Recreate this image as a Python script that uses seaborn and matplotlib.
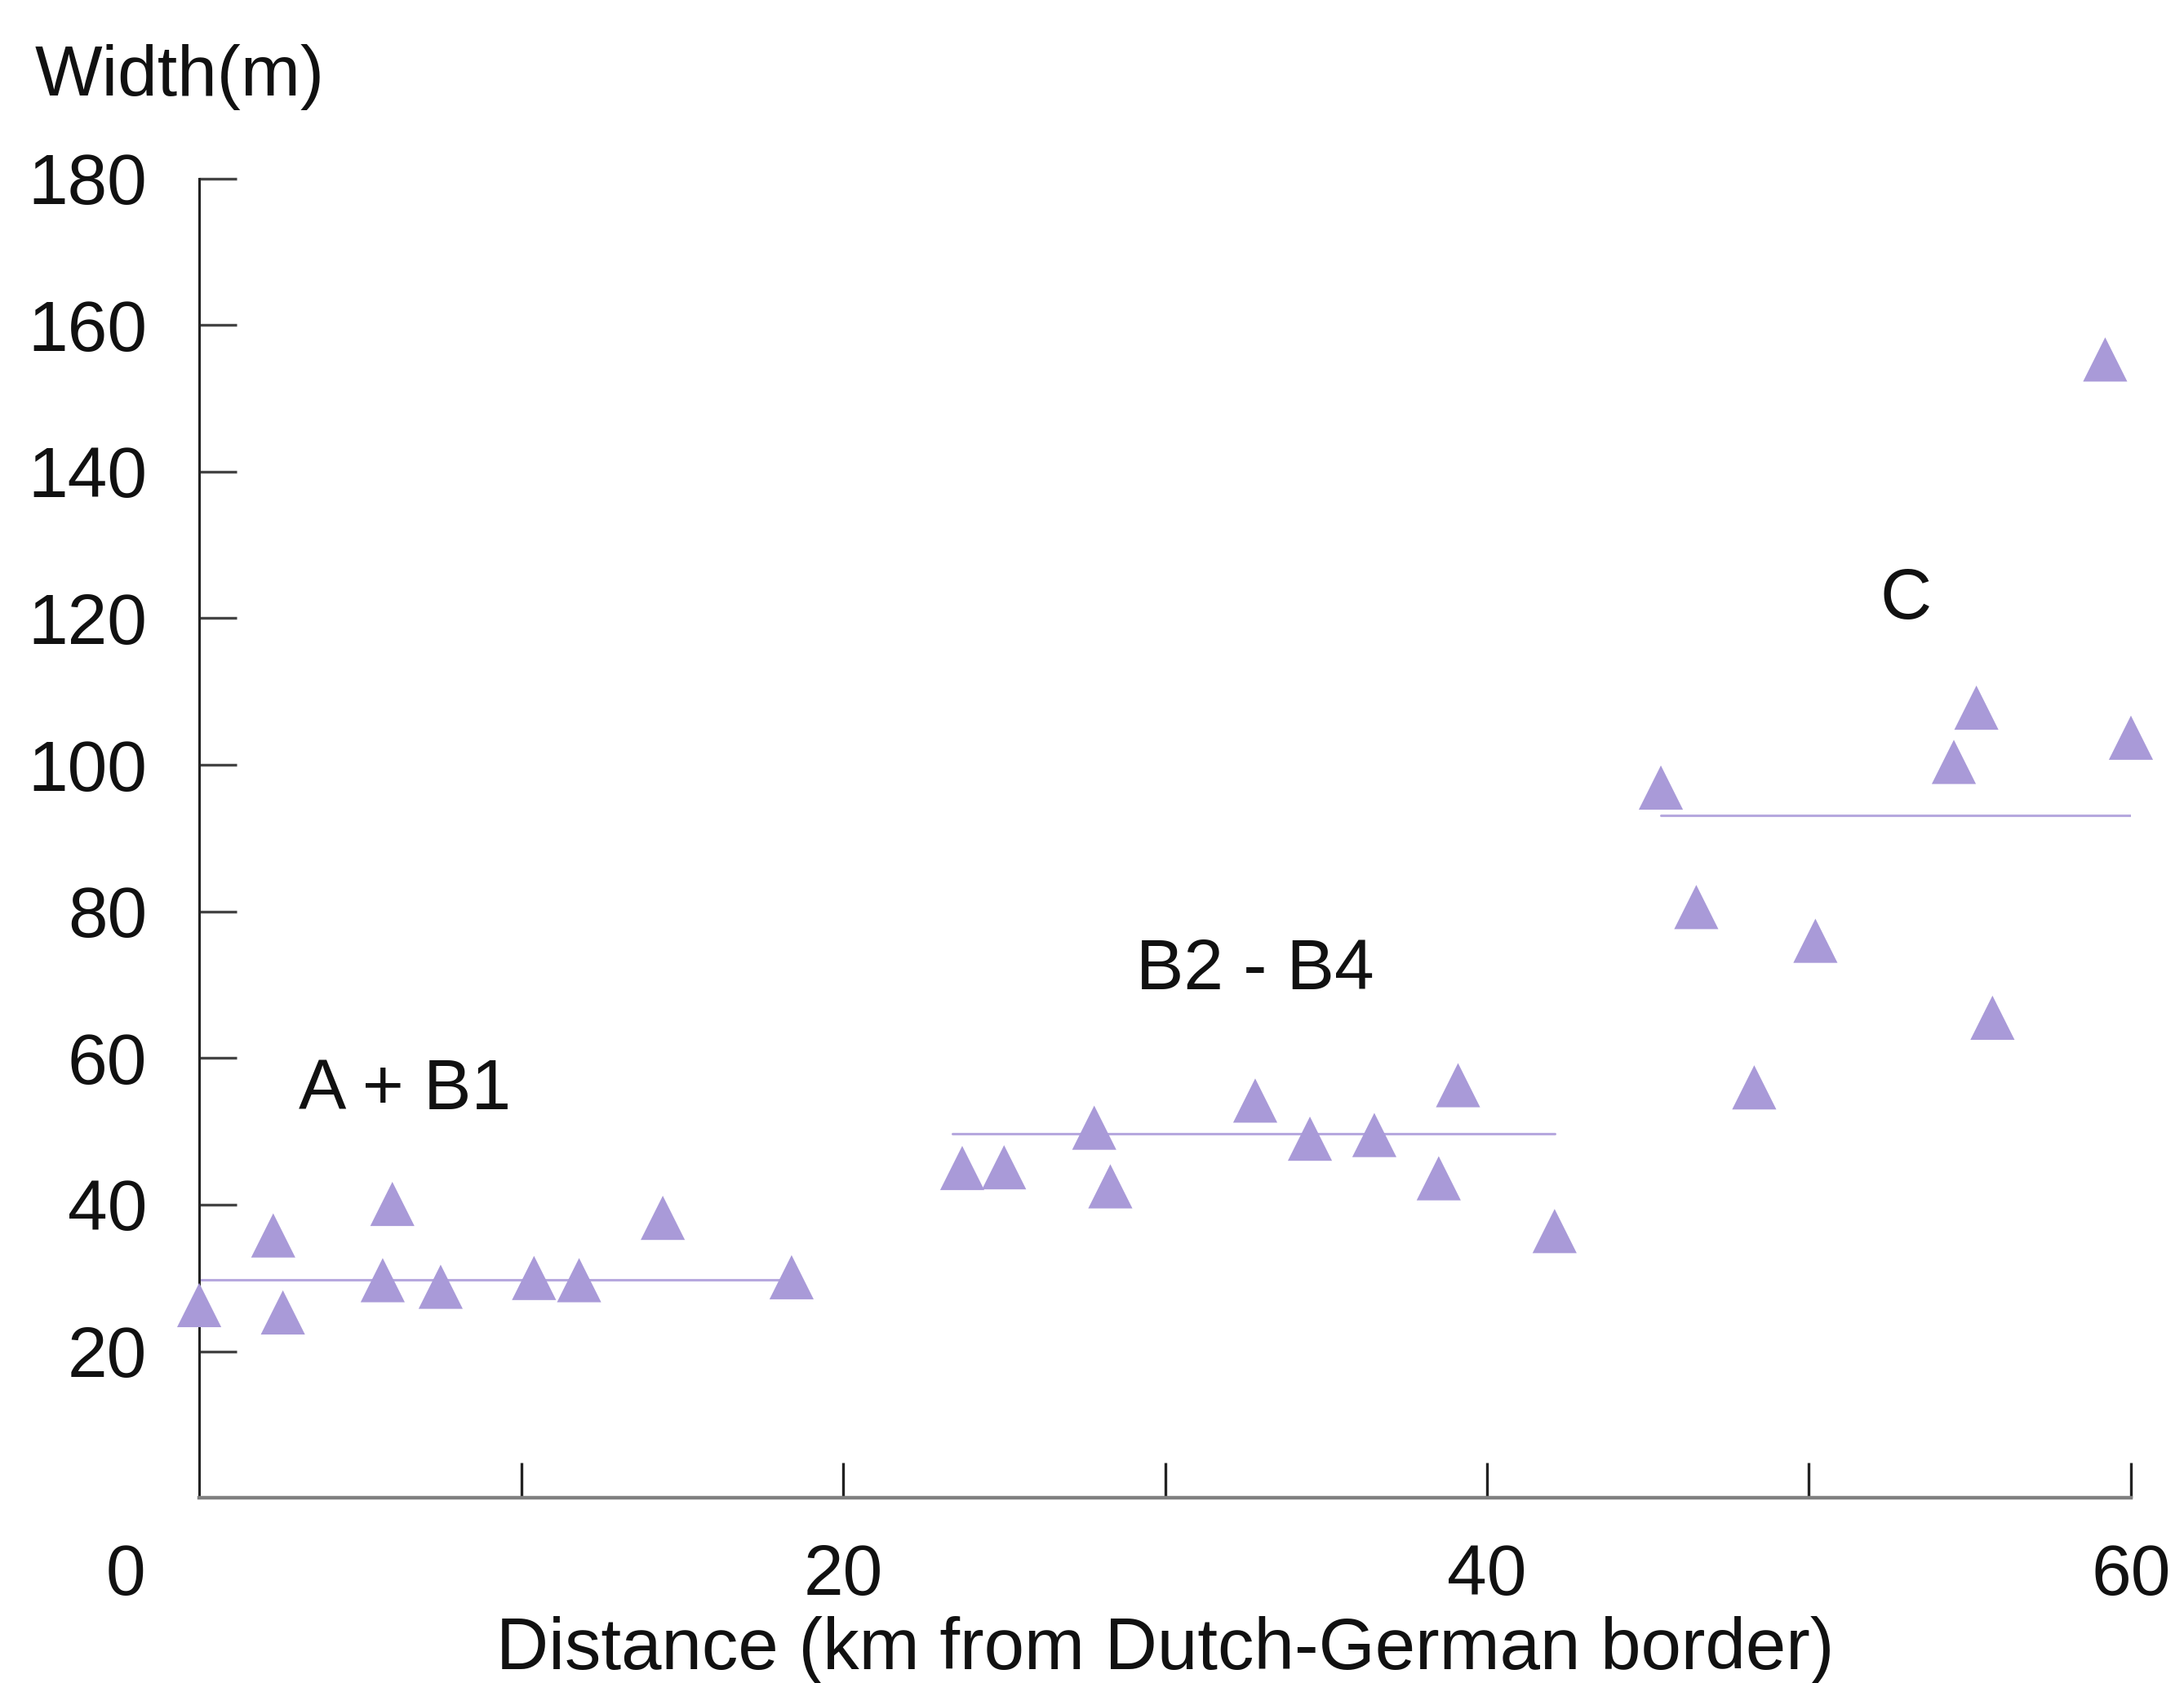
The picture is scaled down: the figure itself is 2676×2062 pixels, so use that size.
#Channel width against distance, three reaches with their mean width

import matplotlib
matplotlib.use('Agg')
import matplotlib.pyplot as plt
import matplotlib.transforms as mtransforms
import pandas as pd
import seaborn as sns

# values
a_dist = [0.0, 2.3, 2.6, 5.7, 6.0, 7.5, 10.4, 11.8, 14.4, 18.4]
a_width = [26.3, 35.8, 25.3, 29.7, 40.1, 28.8, 30.0, 29.7, 38.2, 30.1]
b_dist = [23.7, 25.0, 27.8, 28.3, 32.8, 34.5, 36.5, 38.5, 39.1, 42.1]
b_width = [45.0, 45.1, 50.5, 42.5, 54.2, 49.0, 49.5, 43.6, 56.3, 36.4]
c_dist = [45.4, 46.5, 48.3, 50.2, 54.5, 55.2, 55.7, 59.2, 60.0]
c_width = [96.9, 80.6, 56.0, 76.0, 100.4, 107.8, 65.5, 155.3, 103.7]

reach_names = ['A + B1', 'B2 - B4', 'C']
mean_start = [0.0, 23.4, 45.4]
mean_end = [18.1, 42.1, 60.0]
mean_width = [29.8, 49.7, 93.1]
label_x = [6.4, 32.8, 53.0]
label_y = [55.5, 71.9, 122.4]

x_labels = ['0', '20', '40', '60']
y_ticks = [20, 40, 60, 80, 100, 120, 140, 160, 180]

df = pd.DataFrame({
    'dist': a_dist + b_dist + c_dist,
    'width': a_width + b_width + c_width,
})

sns.set_style('white')
plt.rcParams['font.family'] = ['Liberation Sans', 'DejaVu Sans']

fig = plt.figure(figsize=(13.38, 10.31), dpi=200)
ax = fig.add_axes([0.0912, 0.110, 0.8845, 0.784])

purple = '#a99ad8'
for x0, x1, w in zip(mean_start, mean_end, mean_width):
    ax.plot([x0, x1], [w, w], color='#b6a8de', lw=1.1, zorder=2)

sns.scatterplot(data=df, x='dist', y='width', marker='^', s=380, color=purple,
                edgecolor='none', linewidth=0, ax=ax, zorder=3, clip_on=False)

for name, tx, ty in zip(reach_names, label_x, label_y):
    ax.text(tx, ty, name, fontsize=31.5, ha='center', va='center', color='#111111')

ax.set_xlim(0, 60)
ax.set_ylim(0, 180)

# keep the tick marks at 20/40/60 even though labels sit there too
ax.xaxis.remove_overlapping_locs = False
ax.set_xticks([0, 20, 40, 60])
ax.set_xticklabels(x_labels)
ax.set_xticks([10, 20, 30, 40, 50, 60], minor=True)
ax.tick_params(axis='x', which='major', bottom=True, length=0, pad=20,
               labelsize=31.5, labelcolor='#111111')
ax.tick_params(axis='x', which='minor', bottom=True, direction='in', length=15.5,
               width=1.2, color='#222222')
ax.set_yticks(y_ticks)
ax.tick_params(axis='y', which='major', left=True, direction='in', length=16.5,
               width=1.2, color='#444444', pad=23, labelsize=31.5,
               labelcolor='#111111')

# the 0 label sits left of the origin
lab0 = ax.get_xticklabels()[0]
lab0.set_transform(lab0.get_transform() +
                   mtransforms.ScaledTranslation(-0.45, 0, fig.dpi_scale_trans))

for side in ['top', 'right']:
    ax.spines[side].set_visible(False)
ax.spines['left'].set_color('#222222')
ax.spines['left'].set_linewidth(1.1)
ax.spines['bottom'].set_color('#808080')
ax.spines['bottom'].set_linewidth(1.6)

ax.set_xlabel('Distance (km from Dutch-German border)', fontsize=32, labelpad=3,
              color='#111111')
ax.set_ylabel('')
fig.text(0.016, 0.954, 'Width(m)', fontsize=31.5, ha='left', va='center',
         color='#111111')

fig.savefig('out.png', dpi=200, facecolor='white')
